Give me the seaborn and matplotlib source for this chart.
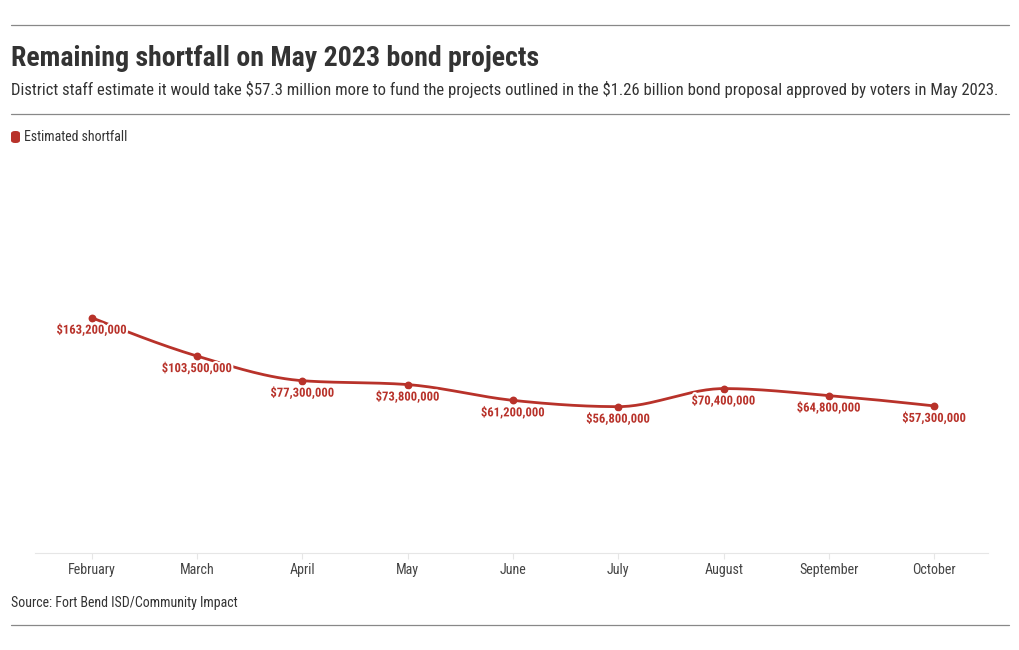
import numpy as np
import pandas as pd
import seaborn as sns
import matplotlib.pyplot as plt
from matplotlib import font_manager
import matplotlib.patheffects as pe
from matplotlib.patches import FancyBboxPatch

months = ["February", "March", "April", "May", "June", "July", "August", "September", "October"]
shortfall = [163200000, 103500000, 77300000, 73800000, 61200000, 56800000, 70400000, 64800000, 57300000]
series_name = "Estimated shortfall"

title = "Remaining shortfall on May 2023 bond projects"
subtitle = ("District staff estimate it would take $57.3 million more to fund the projects "
            "outlined in the $1.26 billion bond proposal approved by voters in May 2023.")
source = "Source: Fort Bend ISD/Community Impact"

RED = "#b8322a"
DARK = "#333333"

sns.set_theme(style="white")
installed = {f.name for f in font_manager.fontManager.ttflist}
fam = "Roboto Condensed" if "Roboto Condensed" in installed else "Roboto"
plt.rcParams["font.family"] = [fam, "DejaVu Sans"]
plt.rcParams["text.parse_math"] = False


def monotone_x(x, y, n=30):
    # d3 curveMonotoneX style smoothing, only used to draw the path
    x = np.asarray(x, float)
    y = np.asarray(y, float)
    h = np.diff(x)
    s = np.diff(y) / h
    t = np.zeros_like(y)
    for i in range(1, len(y) - 1):
        p = (s[i - 1] * h[i] + s[i] * h[i - 1]) / (h[i - 1] + h[i])
        t[i] = (np.sign(s[i - 1]) + np.sign(s[i])) * min(abs(s[i - 1]), abs(s[i]), 0.5 * abs(p))
    t[0] = (3 * s[0] - t[1]) / 2
    t[-1] = (3 * s[-1] - t[-2]) / 2
    xs, ys = [], []
    for i in range(len(h)):
        u = np.linspace(0, 1, n, endpoint=(i == len(h) - 1))
        h00 = 2 * u**3 - 3 * u**2 + 1
        h10 = u**3 - 2 * u**2 + u
        h01 = -2 * u**3 + 3 * u**2
        h11 = u**3 - u**2
        xs.append(x[i] + u * h[i])
        ys.append(h00 * y[i] + h10 * h[i] * t[i] + h01 * y[i + 1] + h11 * h[i] * t[i + 1])
    return np.concatenate(xs), np.concatenate(ys)


df = pd.DataFrame({"month": months, "value": shortfall})
df["pos"] = np.arange(len(df))

sx, sy = monotone_x(df["pos"], np.log10(df["value"]))
curve = pd.DataFrame({"pos": sx, "value": 10 ** sy})

fig = plt.figure(figsize=(10.2, 6.5), dpi=100)
ax = fig.add_axes([35 / 1020, 1 - 553 / 650, (988 - 35) / 1020, (553 - 165) / 650])

sns.lineplot(data=curve, x="pos", y="value", ax=ax, color=RED, linewidth=2.0, zorder=2)
sns.scatterplot(data=df, x="pos", y="value", ax=ax, color=RED, s=32, edgecolor=RED,
                linewidth=0, zorder=3)

ax.set_yscale("log")
ax.set_ylim(1e7, 1e9)
ax.set_xlim(-0.54, 8.51)

for _, r in df.iterrows():
    ax.annotate(f"${r['value']:,.0f}", (r["pos"], r["value"]), xytext=(0, -9),
                textcoords="offset points", ha="center", va="center", fontsize=9.1,
                fontweight="bold", color=RED, zorder=4,
                path_effects=[pe.withStroke(linewidth=3, foreground="white")])

ax.set_xticks(df["pos"])
ax.set_xticklabels(months, fontsize=10.1, color="#444444")
ax.set_yticks([])
ax.yaxis.set_minor_locator(plt.NullLocator())
ax.tick_params(axis="x", length=4, width=0.8, color="#e6e6e6", pad=3, bottom=True)
ax.set_xlabel("")
ax.set_ylabel("")
for side in ["top", "right", "left"]:
    ax.spines[side].set_visible(False)
ax.spines["bottom"].set_color("#e6e6e6")
ax.spines["bottom"].set_linewidth(0.8)
ax.grid(False)

# header / footer
for yy in [25, 114, 625]:
    fig.add_artist(plt.Line2D([11 / 1020, 1009 / 1020], [1 - yy / 650] * 2,
                              color="#888888", linewidth=0.9))
fig.text(11 / 1020, 1 - 58 / 650, title, fontsize=20.1, fontweight="bold", color=DARK,
         va="center", ha="left")
fig.text(11 / 1020, 1 - 90 / 650, subtitle, fontsize=12, color=DARK, va="center", ha="left")
fig.add_artist(FancyBboxPatch((11 / 1020, 1 - 143 / 650), 9 / 1020, 12 / 650,
                              boxstyle="round,pad=0,rounding_size=0.004",
                              transform=fig.transFigure, color=RED, linewidth=0))
fig.text(24 / 1020, 1 - 137 / 650, series_name, fontsize=10, color=DARK, va="center", ha="left")
fig.text(11 / 1020, 1 - 603 / 650, source, fontsize=10, color=DARK, va="center", ha="left")

fig.savefig("out.png", dpi=100, facecolor="white")
